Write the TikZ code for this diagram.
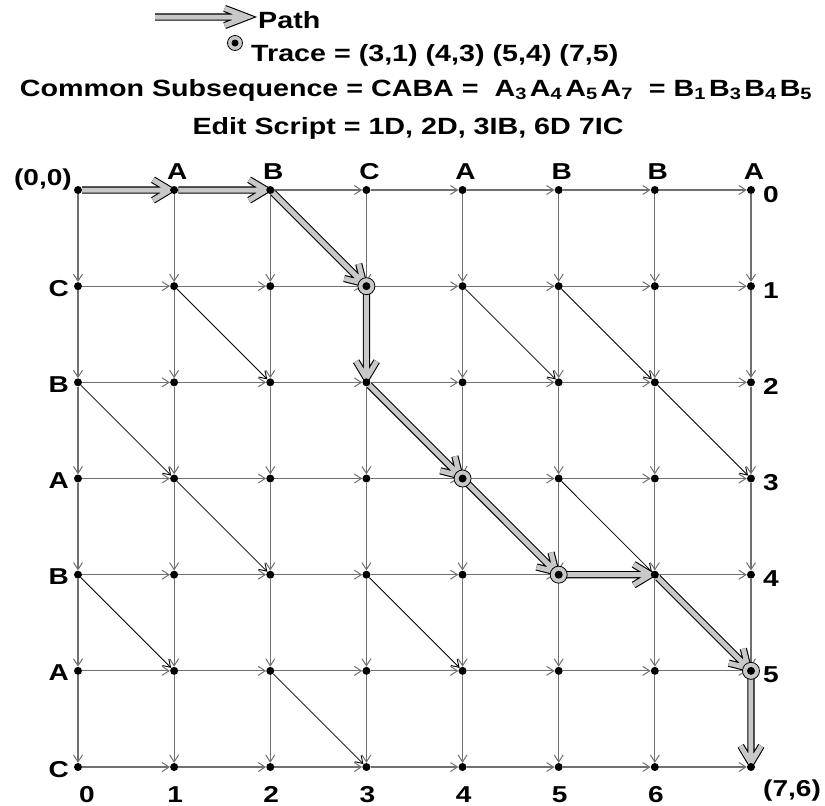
\documentclass[tikz,border=0pt]{standalone}
\usepackage{fontspec}
\setmainfont{Liberation Sans}[FakeStretch=1.22]
\usetikzlibrary{arrows.meta,calc}
\definecolor{edgegray}{HTML}{707070}
\definecolor{pathfill}{HTML}{C8C8C8}
\newcommand\lcsarrow[4]{%
  \coordinate (tip) at ($(#2.center)!4pt!(#1.center)$);
  \draw[pathln] (#1) -- (tip) ($(tip)!#3!#4:(#1.center)$) -- (tip) -- ($(tip)!#3!-#4:(#1.center)$);
}
\begin{document}
\begin{tikzpicture}[x=1pt,y=-1pt,
  vert/.style={circle,inner sep=0pt,minimum size=8pt},
  gedge/.style={draw=edgegray,line width=1.2pt,-{Straight Barb[length=7pt,width=9pt,line width=1pt]}},
  diag/.style={draw=black,line width=0.8pt,-{Straight Barb[length=7pt,width=9pt,line width=0.9pt]}},
  pathln/.style={draw=black,line width=1.1pt,double=pathfill,double distance=5pt,line join=miter,miter limit=10},
  tracec/.style={draw=black,fill=pathfill,line width=0.8pt},
  lbl/.style={font=\fontsize{23}{27}\selectfont\bfseries,inner sep=0pt},
  hdr/.style={font=\fontsize{23.5}{28}\selectfont\bfseries,inner sep=0pt}]
\useasboundingbox (0,0) rectangle (825,806);
% vertices
\foreach \i in {0,...,7}
  \foreach \j in {0,...,6}
    \node[vert] (n\i\j) at ({78+96.14*\i},{190+96.17*\j}) {};
% horizontal edges
\foreach \i in {0,...,6}
  \foreach \j in {0,...,6}{
    \pgfmathtruncatemacro\k{\i+1}
    \draw[gedge] (n\i\j) -- (n\k\j);
  }
% vertical edges
\foreach \i in {0,...,7}
  \foreach \j in {0,...,5}{
    \pgfmathtruncatemacro\k{\j+1}
    \draw[gedge] (n\i\j) -- (n\i\k);
  }
% diagonal (match) edges
\foreach \a/\b in {20/31,11/22,41/52,51/62,02/13,32/43,62/73,13/24,43/54,53/64,04/15,34/45,64/75,25/36}
  \draw[diag] (n\a) -- (n\b);
% path
\lcsarrow{n00}{n10}{20pt}{31}
\lcsarrow{n10}{n20}{20pt}{31}
\lcsarrow{n20}{n31}{20pt}{31}
\lcsarrow{n31}{n32}{20pt}{31}
\lcsarrow{n32}{n43}{20pt}{31}
\lcsarrow{n43}{n54}{20pt}{31}
\lcsarrow{n54}{n64}{20pt}{31}
\lcsarrow{n64}{n75}{20pt}{31}
\lcsarrow{n75}{n76}{20pt}{31}
% trace circles
\foreach \t in {31,43,54,75}
  \draw[tracec] (n\t.center) circle (8.5pt);
% dots
\foreach \i in {0,...,7}
  \foreach \j in {0,...,6}
    \fill (n\i\j.center) circle (4pt);
% legend
\coordinate (la) at (155,17);
\coordinate (lb) at (251,17);
\lcsarrow{la}{lb}{24pt}{21}
\node[hdr,anchor=base west] (tpath) at (258,28) {Path};
\coordinate (lc) at (235,43);
\draw[tracec] (lc) circle (7.5pt);
\fill (lc) circle (3.5pt);
\node[hdr,anchor=base west] (ttrace) at (251,61) {Trace = (3,1) (4,3) (5,4) (7,5)};
\node[hdr,anchor=base] (tcommon) at (416,96) {Common Subsequence = CABA =\ \ A\textsubscript{3}\kern3pt A\textsubscript{4}\kern3pt A\textsubscript{5}\kern3pt A\textsubscript{7}\ \ = B\textsubscript{1}\kern3pt B\textsubscript{3}\kern3pt B\textsubscript{4}\kern3pt B\textsubscript{5}};
\node[hdr,anchor=base] (tedit) at (408,134) {Edit Script = 1D, 2D, 3IB, 6D 7IC};
% top labels (sequence A)
\foreach \c [count=\n] in {A,B,C,A,B,B,A}
  \node[lbl,anchor=base] (top\n) at ({81+96.14*\n},179) {\c};
% left labels (sequence B)
\foreach \c [count=\n] in {C,B,A,B,A,C}
  \node[lbl,anchor=base east] (left\n) at ({69},{200+96.17*\n}) {\c};
% right labels
\foreach \n in {0,...,5}
  \node[lbl,anchor=base west] (right\n) at (763,{202+96.17*\n}) {\n};
% bottom labels
\node[lbl,anchor=base] (bot0) at (87,802) {0};
\foreach \n in {1,...,6}
  \node[lbl,anchor=base] (bot\n) at ({79+96.14*\n},802) {\n};
\node[lbl,anchor=base east] (corner0) at (72,185) {(0,0)};
\node[lbl,anchor=base] (corner1) at (792,796) {(7,6)};
\end{tikzpicture}
\end{document}
